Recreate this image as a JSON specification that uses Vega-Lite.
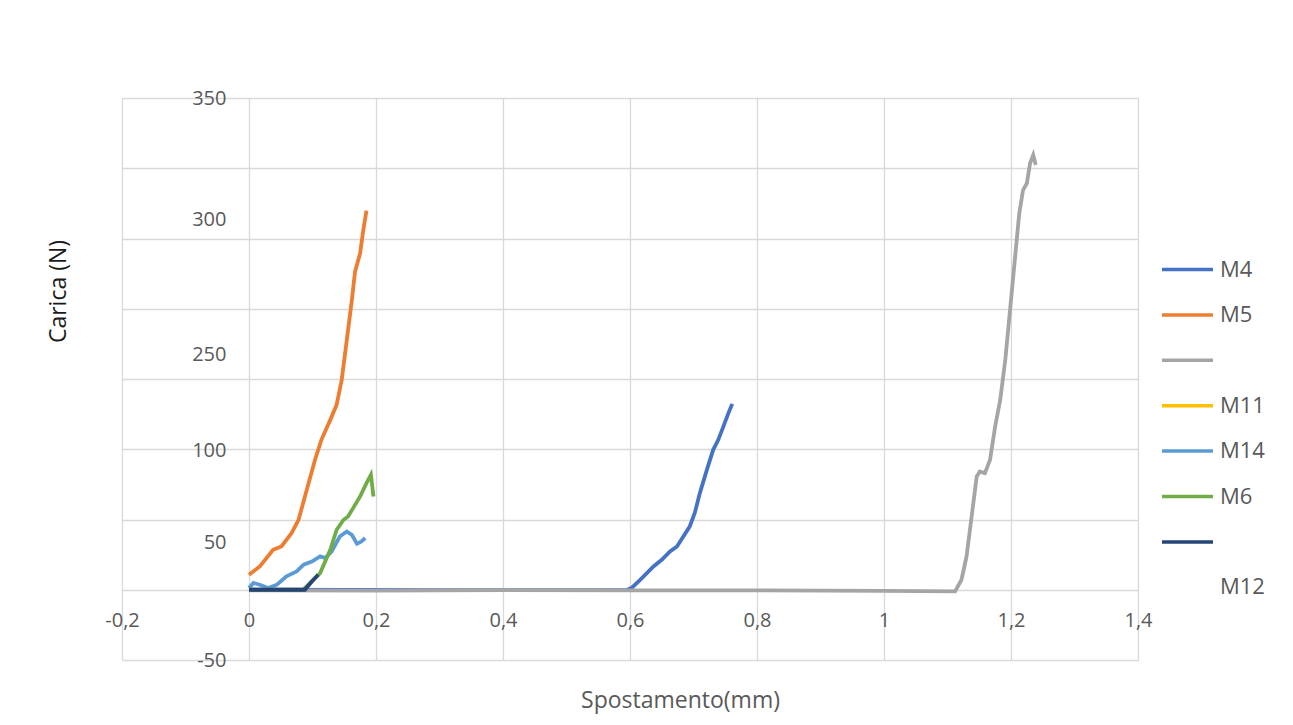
{
  "$schema": "https://vega.github.io/schema/vega-lite/v6.json",
  "width": 1016,
  "height": 562,
  "autosize": {"type": "none"},
  "padding": {"left": 122, "top": 98, "right": 155, "bottom": 65},
  "background": "white",
  "config": {"font": "Open Sans", "view": {"stroke": null}},
  "data": {
    "values": [
      {"s": "M4", "x": 0.0, "y": 0.0},
      {"s": "M4", "x": 0.3, "y": -0.3},
      {"s": "M4", "x": 0.595, "y": -0.2},
      {"s": "M4", "x": 0.603, "y": 1.5},
      {"s": "M4", "x": 0.616, "y": 7.1},
      {"s": "M4", "x": 0.637, "y": 16.6},
      {"s": "M4", "x": 0.65, "y": 21.3},
      {"s": "M4", "x": 0.663, "y": 27.2},
      {"s": "M4", "x": 0.674, "y": 30.8},
      {"s": "M4", "x": 0.684, "y": 37.9},
      {"s": "M4", "x": 0.694, "y": 45.0},
      {"s": "M4", "x": 0.702, "y": 54.6},
      {"s": "M4", "x": 0.71, "y": 68.8},
      {"s": "M4", "x": 0.721, "y": 85.3},
      {"s": "M4", "x": 0.731, "y": 99.6},
      {"s": "M4", "x": 0.739, "y": 106.7},
      {"s": "M4", "x": 0.747, "y": 116.1},
      {"s": "M4", "x": 0.755, "y": 125.7},
      {"s": "M4", "x": 0.761, "y": 132.3},
      {"s": "M5", "x": 0.0, "y": 10.7},
      {"s": "M5", "x": 0.017, "y": 16.6},
      {"s": "M5", "x": 0.038, "y": 28.4},
      {"s": "M5", "x": 0.051, "y": 30.8},
      {"s": "M5", "x": 0.067, "y": 40.3},
      {"s": "M5", "x": 0.078, "y": 49.8},
      {"s": "M5", "x": 0.091, "y": 71.1},
      {"s": "M5", "x": 0.104, "y": 92.5},
      {"s": "M5", "x": 0.114, "y": 106.7},
      {"s": "M5", "x": 0.128, "y": 120.9},
      {"s": "M5", "x": 0.138, "y": 131.6},
      {"s": "M5", "x": 0.146, "y": 149.4},
      {"s": "M5", "x": 0.154, "y": 177.8},
      {"s": "M5", "x": 0.162, "y": 206.3},
      {"s": "M5", "x": 0.167, "y": 226.4},
      {"s": "M5", "x": 0.175, "y": 239.5},
      {"s": "M5", "x": 0.18, "y": 256.0},
      {"s": "M5", "x": 0.185, "y": 269.8},
      {"s": " ", "x": 0.0, "y": -0.4},
      {"s": " ", "x": 0.2, "y": -0.6},
      {"s": " ", "x": 0.4, "y": -0.3},
      {"s": " ", "x": 0.6, "y": -0.5},
      {"s": " ", "x": 0.8, "y": -0.4},
      {"s": " ", "x": 1.0, "y": -0.8},
      {"s": " ", "x": 1.112, "y": -1.2},
      {"s": " ", "x": 1.122, "y": 7.1},
      {"s": " ", "x": 1.13, "y": 23.7},
      {"s": " ", "x": 1.138, "y": 52.1},
      {"s": " ", "x": 1.146, "y": 80.6},
      {"s": " ", "x": 1.151, "y": 84.1},
      {"s": " ", "x": 1.159, "y": 83.0},
      {"s": " ", "x": 1.167, "y": 92.5},
      {"s": " ", "x": 1.175, "y": 116.1},
      {"s": " ", "x": 1.183, "y": 135.1},
      {"s": " ", "x": 1.191, "y": 163.6},
      {"s": " ", "x": 1.198, "y": 196.8},
      {"s": " ", "x": 1.206, "y": 234.7},
      {"s": " ", "x": 1.213, "y": 267.9},
      {"s": " ", "x": 1.219, "y": 284.5},
      {"s": " ", "x": 1.225, "y": 289.3},
      {"s": " ", "x": 1.23, "y": 303.5},
      {"s": " ", "x": 1.235, "y": 309.4},
      {"s": " ", "x": 1.239, "y": 302.3},
      {"s": "M14", "x": 0.0, "y": 1.2},
      {"s": "M14", "x": 0.007, "y": 4.8},
      {"s": "M14", "x": 0.017, "y": 3.6},
      {"s": "M14", "x": 0.03, "y": 1.2},
      {"s": "M14", "x": 0.044, "y": 3.6},
      {"s": "M14", "x": 0.059, "y": 9.5},
      {"s": "M14", "x": 0.075, "y": 13.0},
      {"s": "M14", "x": 0.086, "y": 17.8},
      {"s": "M14", "x": 0.099, "y": 20.1},
      {"s": "M14", "x": 0.112, "y": 23.7},
      {"s": "M14", "x": 0.12, "y": 22.5},
      {"s": "M14", "x": 0.13, "y": 27.2},
      {"s": "M14", "x": 0.143, "y": 37.9},
      {"s": "M14", "x": 0.154, "y": 41.5},
      {"s": "M14", "x": 0.162, "y": 39.1},
      {"s": "M14", "x": 0.17, "y": 32.7},
      {"s": "M14", "x": 0.177, "y": 34.4},
      {"s": "M14", "x": 0.183, "y": 36.8},
      {"s": "M6", "x": 0.0, "y": 0.0},
      {"s": "M6", "x": 0.085, "y": 0.0},
      {"s": "M6", "x": 0.112, "y": 11.9},
      {"s": "M6", "x": 0.128, "y": 28.4},
      {"s": "M6", "x": 0.138, "y": 42.7},
      {"s": "M6", "x": 0.149, "y": 49.8},
      {"s": "M6", "x": 0.156, "y": 52.1},
      {"s": "M6", "x": 0.164, "y": 58.1},
      {"s": "M6", "x": 0.175, "y": 66.4},
      {"s": "M6", "x": 0.185, "y": 75.9},
      {"s": "M6", "x": 0.192, "y": 81.8},
      {"s": "M6", "x": 0.196, "y": 66.4},
      {"s": "  ", "x": 0.0, "y": 0.0},
      {"s": "  ", "x": 0.088, "y": 0.0},
      {"s": "  ", "x": 0.099, "y": 5.9},
      {"s": "  ", "x": 0.109, "y": 10.7}
    ]
  },
  "encoding": {
    "x": {
      "field": "x",
      "type": "quantitative",
      "scale": {"domain": [-0.2, 1.4], "nice": false, "zero": false},
      "axis": {
        "values": [-0.2, 0, 0.2, 0.4, 0.6, 0.8, 1, 1.2, 1.4],
        "labelExpr": "(datum.value < 0 ? '-' : '') + replace(format(abs(datum.value), '~g'), '.', ',')",
        "grid": true,
        "gridColor": "#d9d9d9",
        "gridWidth": 1.3,
        "domain": false,
        "ticks": false,
        "offset": -70,
        "labelPadding": 20,
        "labelFontSize": 20,
        "labelColor": "#595959",
        "labelFlush": false,
        "labelOverlap": false,
        "title": "Spostamento(mm)",
        "titleFontSize": 23,
        "titleFontWeight": "normal",
        "titleColor": "#595959",
        "titleX": 558,
        "titleY": 110,
        "titleBaseline": "middle",
        "titleAlign": "center"
      }
    },
    "color": {
      "field": "s",
      "type": "nominal",
      "scale": {
        "domain": ["M4", "M5", " ", "M11", "M14", "M6", "  ", "M12"],
        "range": ["#4472C4", "#ED7D31", "#A5A5A5", "#FFC000", "#5B9BD5", "#70AD47", "#264478", "transparent"]
      },
      "legend": {
        "orient": "none",
        "legendX": 1038,
        "legendY": 144,
        "title": null,
        "symbolType": "stroke",
        "symbolSize": 2600,
        "symbolStrokeWidth": 3.5,
        "labelFontSize": 22,
        "labelColor": "#595959",
        "labelOffset": 5,
        "rowPadding": 6.4,
        "padding": 0
      }
    }
  },
  "layer": [
    {
      "transform": [{"filter": {"not": {"field": "s", "oneOf": ["M14", "M6", "  "]}}}],
      "mark": {"type": "line", "strokeWidth": 3.8},
      "encoding": {
        "y": {
          "field": "y",
          "type": "quantitative",
          "scale": {"domain": [-50, 350], "nice": false, "zero": false},
          "axis": {
            "values": [-50, 0, 50, 100, 150, 200, 250, 300, 350],
            "grid": true,
            "gridColor": "#d9d9d9",
            "gridWidth": 1.3,
            "labels": false,
            "ticks": false,
            "domain": false,
            "title": "Carica (N)",
            "titleFontSize": 23,
            "titleFontWeight": "normal",
            "titleColor": "#1a1a1a",
            "titleX": -64,
            "titleY": 193,
            "titleAngle": -90,
            "titleAlign": "center",
            "titleBaseline": "middle"
          }
        }
      }
    },
    {
      "transform": [{"filter": {"field": "s", "oneOf": ["M14", "M6", "  "]}}],
      "mark": {"type": "line", "strokeWidth": 3.8},
      "encoding": {
        "y": {
          "field": "y",
          "type": "quantitative",
          "axis": {
            "orient": "left",
            "values": [350, 263.2, 167.3, 99, 33.4, -50],
            "labelExpr": "round(datum.value) == 350 ? '350' : round(datum.value) == 263 ? '300' : round(datum.value) == 167 ? '250' : round(datum.value) == 99 ? '100' : round(datum.value) == 33 ? '50' : '-50'",
            "grid": false,
            "ticks": false,
            "domain": false,
            "offset": -126,
            "labelPadding": 22,
            "labelFontSize": 20,
            "labelColor": "#595959",
            "labelFlush": false,
            "labelOverlap": false,
            "title": null
          }
        }
      }
    }
  ],
  "resolve": {"axis": {"y": "independent"}}
}
